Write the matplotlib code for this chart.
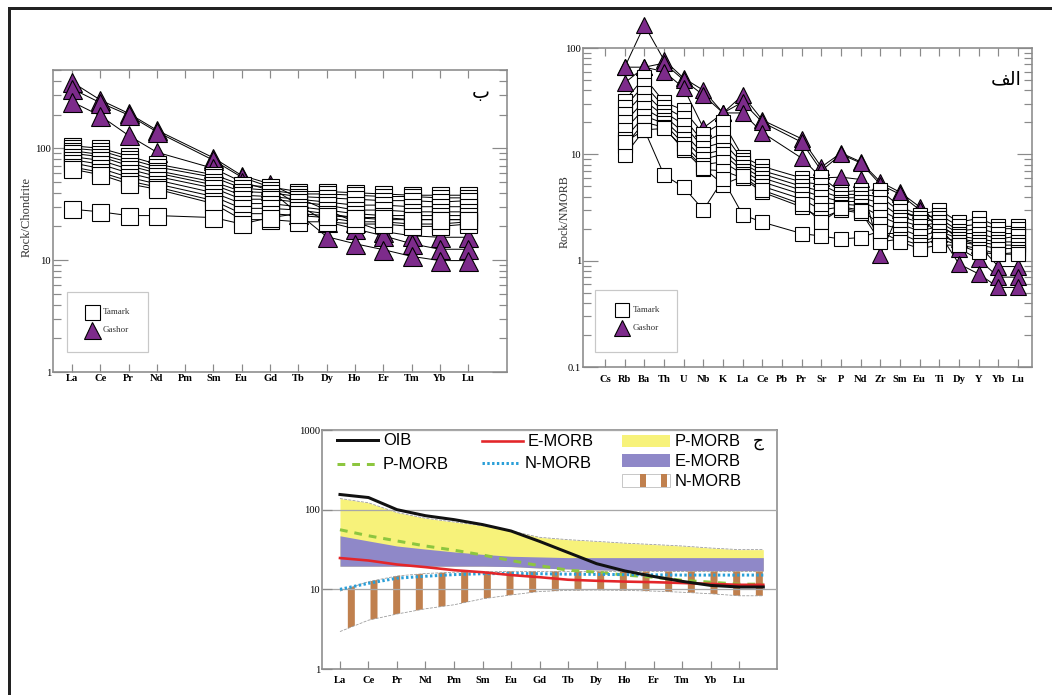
"""Spider diagrams: Tamark / Gashor samples + reference mantle patterns."""
import numpy as np
import matplotlib

matplotlib.use("Agg")
import matplotlib.pyplot as plt
from matplotlib.lines import Line2D
from matplotlib.patches import Rectangle
from matplotlib.ticker import LogLocator, NullFormatter

DPI = 136
W, H = 1052, 695

nan = np.nan

# ---- (ب) chondrite-normalised REE ----
REE = ["La", "Ce", "Pr", "Nd", "Pm", "Sm", "Eu", "Gd", "Tb", "Dy", "Ho", "Er", "Tm", "Yb", "Lu"]

tamark_chon = [
    [105, 100, 85, 72, nan, 58, 47, 45, 41, 41, 40, 39, 38, 38, 38],
    [100, 95, 80, 68, nan, 55, 44, 42, 39, 39, 38, 37, 37, 36, 36],
    [95, 88, 75, 63, nan, 50, 41, 40, 37, 36, 35, 34, 34, 33, 34],
    [90, 84, 70, 60, nan, 47, 38, 37, 35, 33, 31, 31, 30, 30, 30],
    [84, 78, 65, 56, nan, 44, 35, 35, 33, 31, 28, 28, 27, 27, 27],
    [79, 72, 60, 52, nan, 40, 32, 32, 30, 28, 26, 25, 25, 25, 25],
    [74, 66, 55, 48, nan, 37, 29, 29, 28, 26, 24, 23, 23, 23, 23],
    [68, 61, 51, 45, nan, 34, 26, 26, 25, 24, 22, 22, 21, 21, 22],
    [65, 58, 48, 43, nan, 32, 23, 23, 22, 22, 21, 21, 20, 20, 21],
    [28.5, 27, 25, 25, nan, 24, 21, 24, 26, 25, 24, 24, 23, 23, 23],
]
gashor_chon = [
    [390, 270, 205, 145, nan, 82, 57, 48, 36, 28, 22, 18, 16.5, 16, 16],
    [340, 255, 198, 140, nan, 78, 55, 45, 31, 22, 19, 16.5, 14, 12.5, 12.5],
    [260, 195, 130, 92, nan, 66, 50, 42, 26, 16.2, 14, 12.4, 10.8, 9.9, 9.9],
]

# ---- (الف) N-MORB-normalised spider ----
SPIDER = ["Cs", "Rb", "Ba", "Th", "U", "Nb", "K", "La", "Ce", "Pb", "Pr",
          "Sr", "P", "Nd", "Zr", "Sm", "Eu", "Ti", "Dy", "Y", "Yb", "Lu"]

tamark_nmorb = [
    [nan, 32, 53, 31, 26, 15.6, 20, 9.5, 7.7, nan, 6.0, 6.1, 4.4, 4.6, 4.6, 3.2, 2.7, 3.0, 2.3, 2.5, 2.1, 2.1],
    [nan, 28, 45, 28, 22, 13, 16, 8.8, 7.0, nan, 5.5, 5.2, 4.2, 4.2, 4.0, 2.9, 2.5, 2.7, 2.1, 2.2, 2.0, 2.0],
    [nan, 24, 38, 25, 19, 11.5, 13, 8.2, 6.5, nan, 5.0, 4.5, 3.9, 3.9, 3.5, 2.6, 2.3, 2.5, 1.9, 2.0, 1.8, 1.8],
    [nan, 20, 32, 23, 16, 10, 11, 7.6, 6.0, nan, 4.6, 4.0, 3.6, 3.6, 3.0, 2.4, 2.1, 2.3, 1.8, 1.8, 1.6, 1.7],
    [nan, 17, 27, 21, 14, 9, 10, 7.0, 5.5, nan, 4.2, 3.5, 3.4, 3.3, 2.6, 2.2, 1.9, 2.1, 1.7, 1.6, 1.5, 1.5],
    [nan, 14, 23, 19.5, 12.5, 8, 8.5, 6.5, 5.0, nan, 3.8, 3.0, 3.2, 3.0, 2.2, 2.0, 1.7, 1.9, 1.6, 1.5, 1.4, 1.4],
    [nan, 12, 20, 18, 11, 7.2, 7, 6.0, 4.4, nan, 3.2, 2.5, 3.0, 2.8, 1.8, 1.8, 1.5, 1.7, 1.5, 1.4, 1.3, 1.3],
    [nan, 9.8, 17, 17.5, 11.5, 7.5, 5.2, 6.2, 4.6, nan, 3.4, 2.3, 3.1, 2.9, 1.5, 1.6, 1.4, 1.6, 1.4, 1.3, 1.15, 1.2],
    [nan, 13, 17, 6.4, 4.9, 3.0, 5.8, 2.7, 2.3, nan, 1.8, 1.7, 1.6, 1.65, 1.9, 1.5, 1.3, 1.4, 1.4, 1.2, 1.15, 1.15],
]
gashor_nmorb = [
    [nan, 66, 164, 77, 52, 40, 24.5, 36, 21, nan, 14, 7.6, 10.3, 8.5, 5.5, 4.4, 3.2, 2.2, 1.6, 1.4, 0.88, 0.88],
    [nan, 66, 66, 72, 50, 36, 24.5, 31, 20, nan, 13, 7.0, 10, 8.3, 5.2, 4.2, 3.0, 2.0, 1.3, 1.03, 0.7, 0.7],
    [nan, 47, 66, 60, 42, 17.7, 24.5, 24.5, 16, nan, 9.2, 6.0, 6.1, 5.8, 1.14, 3.0, 2.5, 1.8, 0.93, 0.75, 0.56, 0.56],
]

# ---- (ج) reference patterns, chondrite-normalised ----
oib = [155, 142, 100, 84, 75, 65, 54, 40, 29, 21, 17, 14.5, 12.6, 11.2, 10.7]
emorb = [24.7, 23, 20.5, 19, 17.4, 16.4, 15.1, 14.2, 13.2, 12.8, 12.5, 12.3, 12, 11.7, 11.4]
nmorb = [10, 11.9, 13.8, 14.6, 15.3, 15.7, 15.8, 15.7, 15.5, 15.4, 15.3, 15.2, 15.1, 15.1, 15.1]
pmorb = [56, 47, 40.5, 35, 31, 27, 23, 19.8, 17.4, 16.4, 15.1, 14.2, 13, 12.3, 11.6]
pmorb_band_top = [138, 122, 92, 78, 70, 63, 54, 45, 42, 40, 38, 36.5, 35, 33, 31.5]
emorb_band_top = [47, 40.5, 35, 32, 29.5, 27.5, 26, 25.5, 25, 25, 25, 25, 25, 25, 25]
emorb_band_bot = [19.5, 19.5, 19.5, 19.5, 19.5, 19.5, 19.3, 18.5, 18, 17.5, 17.3, 17.2, 17, 17, 17]
nmorb_band_top = [9.5, 12.5, 14.7, 15.8, 16.4, 16.6, 16.8, 16.8, 16.8, 16.8, 16.8, 16.8, 16.8, 16.8, 16.8]
nmorb_band_bot = [2.95, 4.1, 4.9, 5.7, 6.4, 7.6, 8.5, 9.4, 9.7, 9.8, 9.7, 9.5, 9.2, 8.8, 8.3]

PURPLE = "#7d2b8b"
SPINE = "#8a8a8a"
SERIF = "Liberation Serif"
SANS = "Liberation Sans"
BROWN = "#c0804e"


def pt(px):
    """pixels -> points at the figure dpi"""
    return px * 72.0 / DPI


def fx(x):
    return x / W


def fy(y):
    return 1 - y / H


def axes_px(fig, left, top, right, bottom):
    return fig.add_axes([fx(left), fy(bottom), (right - left) / W, (bottom - top) / H])


def style_axes(ax, labels, ylim, yticks, xlim, xpad, minor=True, top=True):
    ax.set_yscale("log")
    ax.set_ylim(*ylim)
    ax.set_xlim(*xlim)
    ax.set_xticks(range(len(labels)))
    ax.set_xticklabels(labels, fontfamily=SERIF, fontweight="bold", fontsize=pt(10.5))
    ax.set_yticks(yticks)
    ax.set_yticklabels([f"{t:g}" for t in yticks], fontfamily=SERIF, fontsize=pt(10.5))
    if minor:
        ax.yaxis.set_minor_locator(LogLocator(base=10, subs=np.arange(2, 10)))
    else:
        ax.yaxis.set_minor_locator(LogLocator(base=10, subs=[]))
    ax.yaxis.set_minor_formatter(NullFormatter())
    for s in ax.spines.values():
        s.set_color(SPINE)
        s.set_linewidth(pt(1.6))
    ax.tick_params(axis="x", which="both", direction="in", top=top, bottom=True,
                   length=pt(8), width=pt(1.2), color=SPINE, pad=xpad)
    ax.tick_params(axis="y", which="major", direction="in", left=True, right=minor,
                   length=pt(15), width=pt(1.2), color=SPINE, pad=pt(2))
    ax.tick_params(axis="y", which="minor", direction="in", left=True, right=True,
                   length=pt(8), width=pt(1.2), color=SPINE)


def plot_samples(ax, rows, marker, face, size, z):
    x = np.arange(len(rows[0]))
    for row in rows:
        v = np.array(row, dtype=float)
        m = ~np.isnan(v)
        ax.plot(x[m], v[m], color="black", lw=pt(1.0), zorder=2, clip_on=False)
        ax.plot(x[m], v[m], ls="none", marker=marker, ms=size, mfc=face,
                mec="black", mew=pt(1.1), zorder=z, clip_on=False)


def sample_legend(fig, box, sq_xy, tri_xy, sq, tri):
    x0, y0, x1, y1 = box
    fig.add_artist(Rectangle((fx(x0), fy(y1)), (x1 - x0) / W, (y1 - y0) / H,
                             fill=False, ec="#c8c8c8", lw=pt(1.2)))
    fig.add_artist(Line2D([fx(sq_xy[0])], [fy(sq_xy[1])], marker="s", ms=sq,
                          mfc="white", mec="black", mew=pt(1.1)))
    fig.add_artist(Line2D([fx(tri_xy[0])], [fy(tri_xy[1])], marker="^", ms=tri,
                          mfc=PURPLE, mec="black", mew=pt(1.1)))
    fig.text(fx(sq_xy[0] + 11), fy(sq_xy[1]), "Tamark", family=SERIF,
             fontsize=pt(9), va="center", ha="left", color="#333")
    fig.text(fx(tri_xy[0] + 11), fy(tri_xy[1]), "Gashor", family=SERIF,
             fontsize=pt(9), va="center", ha="left", color="#333")


def main() -> None:
    plt.rcParams["hatch.linewidth"] = pt(7)
    plt.rcParams["hatch.color"] = BROWN
    fig = plt.figure(figsize=(W / DPI + 1e-4, H / DPI + 1e-4), dpi=DPI)

    # outer frame (left + top)
    fig.add_artist(Line2D([fx(9), fx(9)], [fy(8), fy(695)], color="#222", lw=pt(3)))
    fig.add_artist(Line2D([fx(9), fx(1052)], [fy(8), fy(8)], color="#222", lw=pt(3)))

    # 1) chondrite-normalised REE (ب)
    ax = axes_px(fig, 53, 70, 507, 372)
    style_axes(ax, REE, (1, 500), [1, 10, 100], (-0.67, 15.37), pt(2))
    plot_samples(ax, gashor_chon, "^", PURPLE, pt(19), 3)
    plot_samples(ax, tamark_chon, "s", "white", pt(17), 4)
    fig.text(fx(27), fy(217), "Rock/Chondrite", rotation=90, family=SERIF,
             fontsize=pt(12.5), ha="center", va="center", color="#333")
    fig.text(fx(481), fy(92), "\u0628", family="DejaVu Sans", fontsize=pt(19),
             ha="center", va="center")
    sample_legend(fig, (67, 292, 148, 352), (92, 312), (92, 330), pt(15), pt(17))

    # 2) N-MORB-normalised spider (الف)
    ax = axes_px(fig, 583, 48, 1032, 367)
    style_axes(ax, SPIDER, (0.1, 100), [0.1, 1, 10, 100], (-1.12, 21.71), pt(8))
    plot_samples(ax, gashor_nmorb, "^", PURPLE, pt(16.5), 3)
    plot_samples(ax, tamark_nmorb, "s", "white", pt(14.5), 4)
    fig.text(fx(565), fy(212), "Rock/NMORB", rotation=90, family=SERIF,
             fontsize=pt(12), ha="center", va="center", color="#333")
    fig.text(fx(1006), fy(79), "\uFED2\uFEDF\uFE8D", family="DejaVu Sans",
             fontsize=pt(19), ha="center", va="center")
    sample_legend(fig, (595, 290, 677, 352), (622, 310), (622, 328), pt(14), pt(15.5))

    # 3) reference patterns (ج)
    ax = axes_px(fig, 322, 430, 777, 669)
    style_axes(ax, REE, (1, 1000), [1, 10, 100, 1000], (-0.63, 15.33), pt(7),
               minor=False, top=False)
    ax.tick_params(axis="y", which="major", length=pt(10))
    ax.yaxis.grid(True, color="#a8a8a8", lw=pt(1.3))
    ax.set_axisbelow(False)

    x = np.arange(len(REE), dtype=float)
    xe = np.append(x, x[-1] + 0.85)  # patterns run a little past Lu

    def ext(v):
        return np.append(v, v[-1])

    ax.fill_between(xe, ext(emorb_band_bot), ext(pmorb_band_top), color="#f7f27a", lw=0, zorder=1)
    ax.fill_between(xe, ext(emorb_band_bot), ext(emorb_band_top), color="#8f88c8", lw=0, zorder=1.1)
    ax.fill_between(xe, ext(nmorb_band_bot), ext(nmorb_band_top), facecolor="white",
                    edgecolor=BROWN, hatch="|", lw=0, zorder=1.2)
    for band in (pmorb_band_top, nmorb_band_bot, nmorb_band_top):
        ax.plot(xe, ext(band), color="#9a9a9a", ls="--", lw=pt(0.8), zorder=1.5)

    ax.plot(xe, ext(oib), color="#111", lw=pt(3), zorder=4)
    ax.plot(xe, ext(pmorb), color="#8dc63f", lw=pt(3), ls=(0, (2.6, 2.3)), zorder=3)
    ax.plot(xe, ext(emorb), color="#e3262a", lw=pt(2.6), zorder=3.5)
    ax.plot(xe, ext(nmorb), color="#2a9fd8", lw=pt(3), ls=(0, (0.8, 0.8)), zorder=3.2)

    # legend, drawn by hand as in the source figure
    fs = pt(16.5)
    items = [
        ((337, 378, 440), "#111", "-", pt(3), "OIB"),
        ((337, 378, 464), "#8dc63f", (0, (2.6, 2.3)), pt(3), "P-MORB"),
        ((482, 523, 441), "#e3262a", "-", pt(2.6), "E-MORB"),
        ((482, 520, 463), "#2a9fd8", (0, (0.8, 0.8)), pt(3), "N-MORB"),
    ]
    for (xa, xb, yy), col, ls, lw, lab in items:
        fig.add_artist(Line2D([fx(xa), fx(xb)], [fy(yy), fy(yy)], color=col, ls=ls, lw=lw))
        fig.text(fx(xb + 5), fy(yy), lab, family=SANS, fontsize=fs, va="center", ha="left")
    fig.add_artist(Rectangle((fx(622), fy(447)), 48 / W, 12 / H, color="#f7f27a", lw=0))
    fig.add_artist(Rectangle((fx(622), fy(467)), 48 / W, 13 / H, color="#8f88c8", lw=0))
    fig.add_artist(Rectangle((fx(622), fy(487)), 48 / W, 13 / H, fill=False,
                             ec="#bbbbbb", lw=pt(0.8)))
    for bx in (640, 661):
        fig.add_artist(Rectangle((fx(bx), fy(487)), 6 / W, 13 / H, color=BROWN, lw=0))
    for yy, lab in ((441, "P-MORB"), (461, "E-MORB"), (481, "N-MORB")):
        fig.text(fx(675), fy(yy), lab, family=SANS, fontsize=fs, va="center", ha="left")
    fig.text(fx(758), fy(441), "\u062C", family="DejaVu Sans", fontsize=pt(17),
             ha="center", va="center")

    fig.savefig("out.png", dpi=DPI, facecolor="white")


if __name__ == "__main__":
    main()
